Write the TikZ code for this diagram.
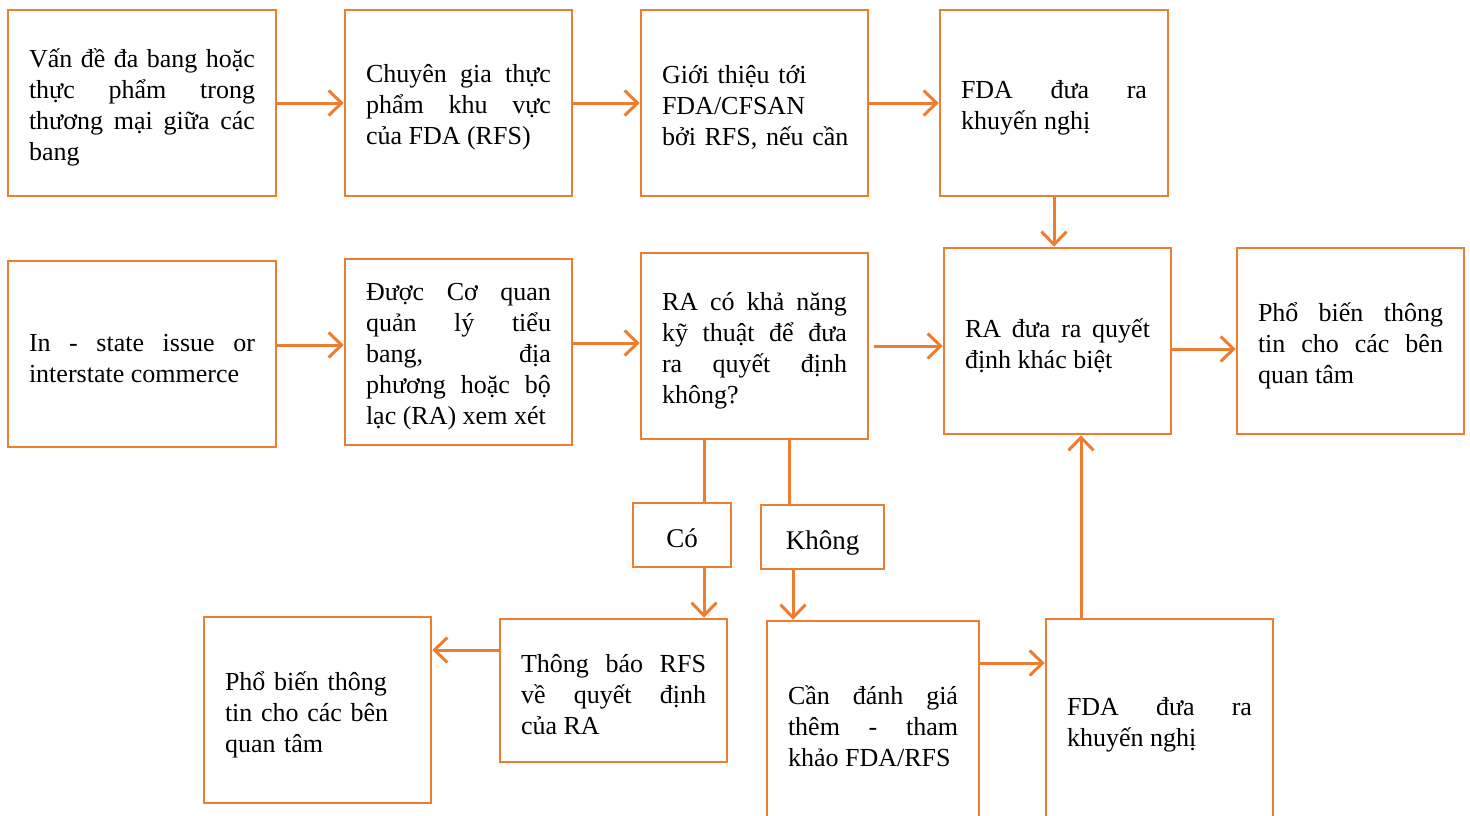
\documentclass[tikz,border=0pt]{standalone}
\usepackage{fontspec}
\setmainfont{Liberation Serif}
\usetikzlibrary{arrows.meta}
\definecolor{org}{HTML}{ED7D31}
\newcommand{\myboxfont}{\fontsize{26}{31}\selectfont\tolerance=10000\relax\hyphenpenalty=10000\relax\hbadness=10000\relax\hfuzz=50pt\relax}
\newcommand{\mylabfont}{\fontsize{27}{31}\selectfont}
\tikzset{
  x=1pt, y=-1pt,
  box/.style={draw=org, line width=2.5pt, inner xsep=21pt, inner ysep=0pt,
    align=justify, minimum height=186pt, font=\myboxfont,
    execute at end node={\par\vspace{-9pt}}},
  nolift/.style={execute at end node={}},
  lab/.style={draw=org, line width=2.5pt, inner sep=0pt, minimum height=64pt,
    align=center, font=\mylabfont, text height=31pt, text depth=6pt},
  ln/.style={draw=org, line width=3pt},
  arr/.style={draw=org, line width=3pt, -{Straight Barb[length=13pt,width=25pt]}},
}
\begin{document}
\begin{tikzpicture}
\useasboundingbox (0,0) rectangle (1470,816);
\clip (0,0) rectangle (1470,816);
% row 1
\node[box, text width=226pt] (a1) at (142,103) {Vấn đề đa bang hoặc\linebreak thực phẩm trong\linebreak thương mại giữa các\linebreak bang};
\node[box, text width=185pt] (a2) at (458.5,103) {Chuyên gia thực\linebreak phẩm khu vực\linebreak của FDA (RFS)};
\node[box, text width=185pt, align=left] (a3) at (754.5,103) {\mbox{Giới thiệu tới}\\\mbox{FDA/CFSAN}\\\mbox{bởi RFS, nếu cần}};
\node[box, text width=186pt] (a4) at (1054,103) {FDA đưa ra\linebreak khuyến nghị};
% row 2
\node[box, text width=226pt] (b1) at (142,354) {In - state issue or\linebreak interstate commerce};
\node[box, text width=185pt] (b2) at (458.5,352) {Được Cơ quan\linebreak quản lý tiểu\linebreak bang, địa\linebreak phương hoặc bộ\linebreak lạc (RA) xem xét};
\node[box, text width=185pt] (b3) at (754.5,346) {RA có khả năng\linebreak kỹ thuật để đưa\linebreak ra quyết định\linebreak không?};
\node[box, text width=185pt] (b4) at (1057.5,341) {RA đưa ra quyết\linebreak định khác biệt};
\node[box, text width=185pt] (b5) at (1350.5,341) {Phổ biến thông\linebreak tin cho các bên\linebreak quan tâm};
% labels
\node[lab, minimum width=98pt] (co) at (682,535) {Có};
\node[lab, minimum width=123pt] (kh) at (822.5,537) {Không};
% row 3
\node[box, text width=185pt, align=left] (c1) at (317.5,710) {Phổ biến thông\\tin cho các bên\\quan tâm};
\node[box, text width=185pt, minimum height=143pt] (c2) at (613.5,690.5) {Thông báo RFS\linebreak về quyết định\linebreak của RA};
\node[box, nolift, text width=170pt, minimum height=202pt] (c3) at (873,722) {Cần đánh giá\linebreak thêm - tham\linebreak khảo FDA/RFS};
\node[box, nolift, text width=185pt, minimum height=202pt] (c4) at (1159.5,720) {FDA đưa ra\linebreak khuyến nghị};
% connectors
\draw[arr] (a1.east) -- (a1.east -| a2.west);
\draw[arr] (a2.east) -- (a2.east -| a3.west);
\draw[arr] (a3.east) -- (a3.east -| a4.west);
\draw[arr] (a4.south) -- (a4.south |- b4.north);
\draw[arr] ([yshift=9pt]b1.east) -- ([yshift=9pt]b1.east -| b2.west);
\draw[arr] ([yshift=9pt]b2.east) -- ([yshift=9pt]b2.east -| b3.west);
\draw[arr] ([xshift=5pt]b3.east) -- (b3.east -| b4.west);
\draw[arr] ([yshift=-8pt]b4.east) -- ([yshift=-8pt]b4.east -| b5.west);
\draw[ln] ([xshift=22pt]co.north) -- ([xshift=22pt]co.north |- b3.south);
\draw[ln] ([xshift=-33.5pt]kh.north) -- ([xshift=-33.5pt]kh.north |- b3.south);
\draw[arr] ([xshift=22pt]co.south) -- ([xshift=22pt]co.south |- c2.north);
\draw[arr] ([xshift=-29.5pt]kh.south) -- ([xshift=-29.5pt]kh.south |- c3.north);
\draw[arr] ([yshift=40.5pt]c2.west) -- ([yshift=40.5pt]c2.west -| c1.east);
\draw[arr] ([yshift=59pt]c3.east) -- ([yshift=59pt]c3.east -| c4.west);
\draw[arr] ([xshift=-78.5pt]c4.north) -- ([xshift=-78.5pt]c4.north |- b4.south);
\end{tikzpicture}
\end{document}
